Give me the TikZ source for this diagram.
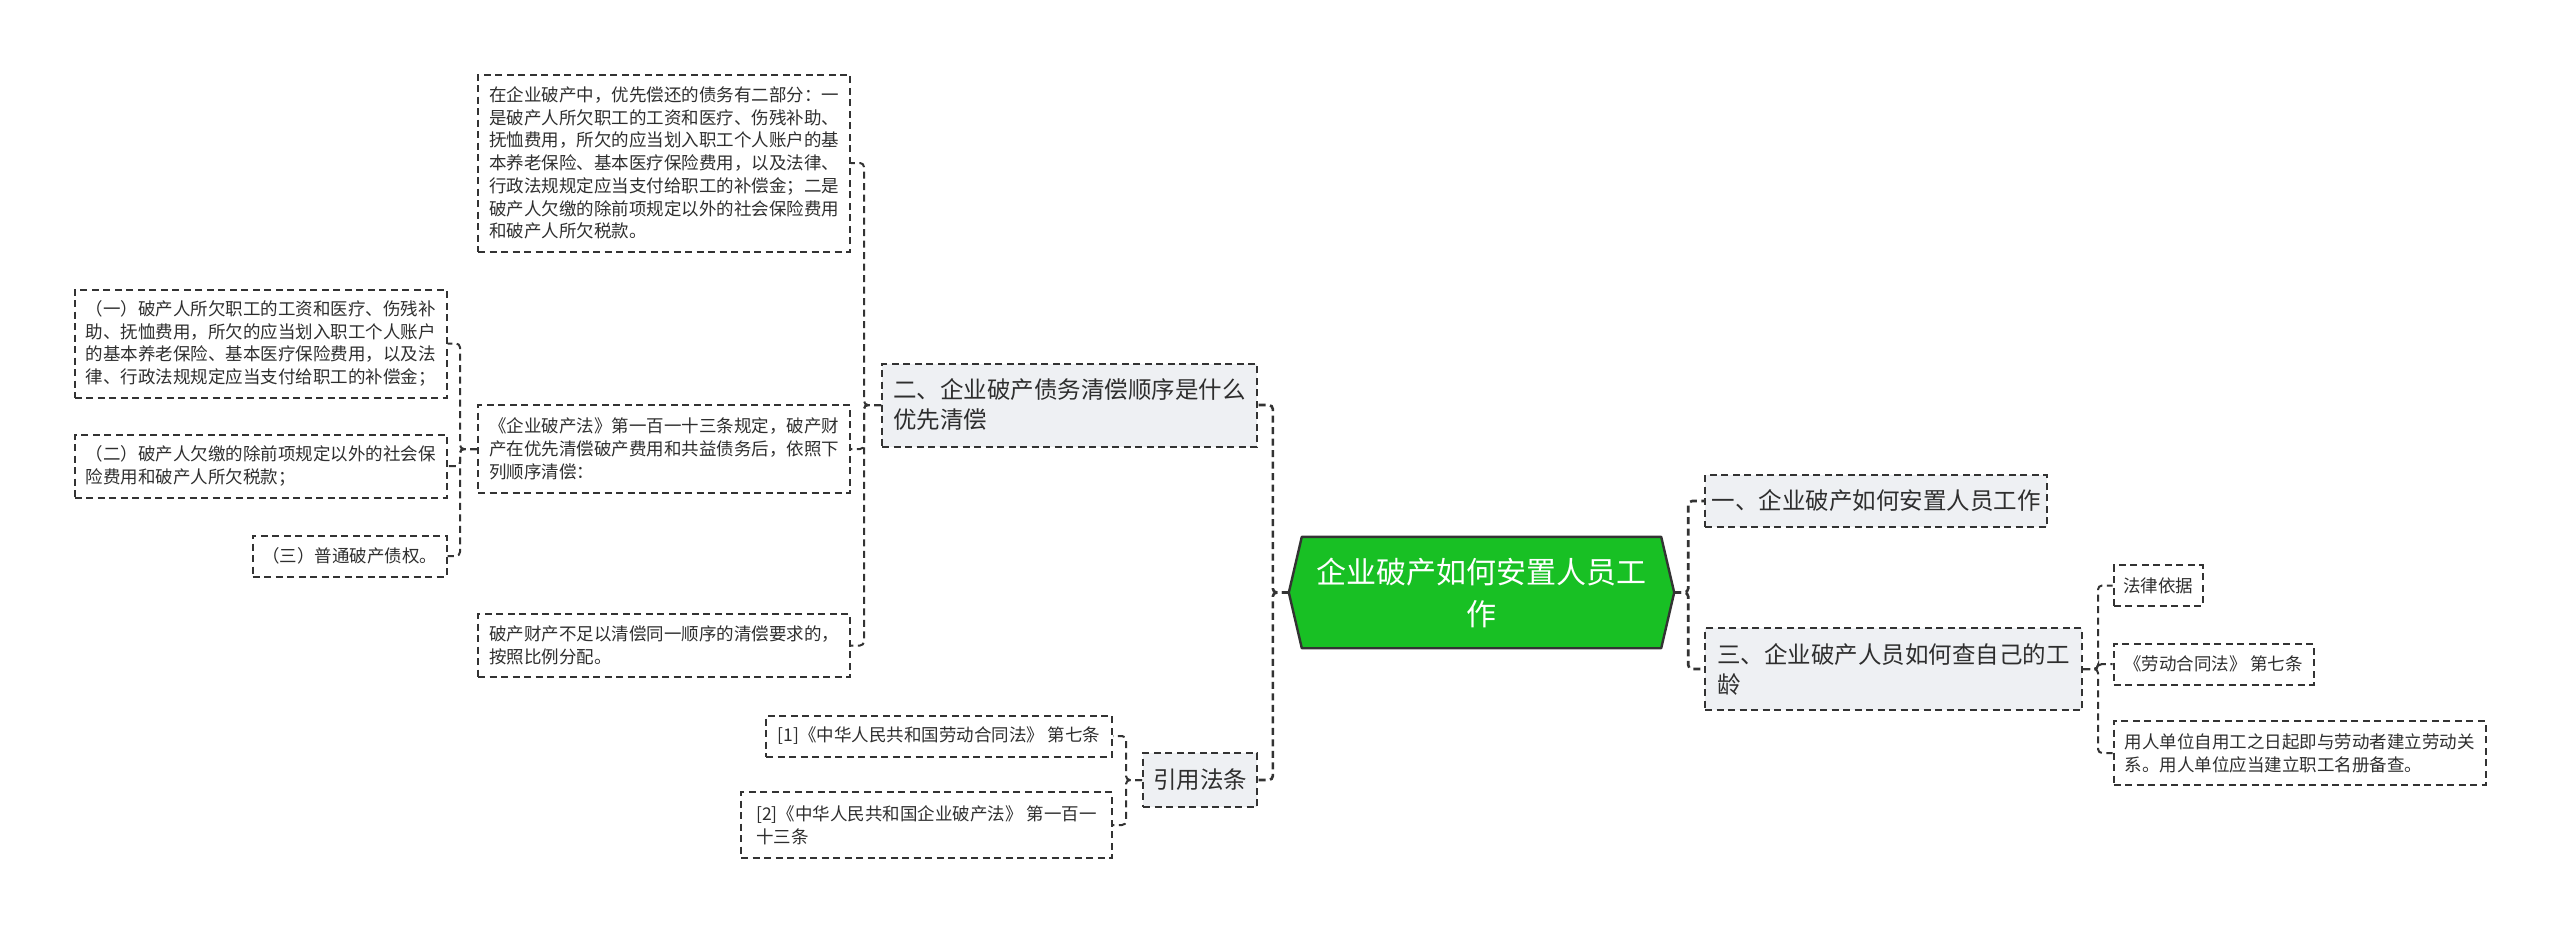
\documentclass[tikz,border=0pt]{standalone}
\usepackage{fontspec}
\setmainfont{Noto Sans CJK SC}
\usetikzlibrary{calc}
\pgfdeclarelayer{background}
\pgfsetlayers{background,main}
\definecolor{txt}{HTML}{2E2E2E}
\definecolor{edge}{HTML}{333333}
\definecolor{lvfill}{HTML}{EEF0F3}
\definecolor{rootgreen}{RGB}{24,192,36}
\tikzset{
  base/.style={inner sep=0pt, align=left, text=txt, draw=edge, line width=2pt, dash pattern=on 7pt off 4.5pt},
  small/.style={base, font=\fontsize{17.5}{22.7}\selectfont},
  mid/.style={base, fill=lvfill, font=\fontsize{23.5}{30}\selectfont},
  rootnode/.style={inner sep=0pt, align=center, text=white, font=\fontsize{30}{42}\selectfont},
  conn/.style={draw=edge, line width=2pt, dash pattern=on 7pt off 4.5pt, rounded corners=4pt},
  mainconn/.style={draw=edge, line width=2.6pt, dash pattern=on 7pt off 4.5pt, rounded corners=4pt},
  box/.style 2 args={minimum width=#1, minimum height=#2}
}
\begin{document}
\begin{tikzpicture}[x=1pt,y=-1pt]
\useasboundingbox (0,0) rectangle (2560,932);
% root
\node[rootnode, box={385}{111}] (root) at (1481.5,592.5) {企业破产如何安置人员工\\作};
\begin{pgfonlayer}{background}
\draw[fill=rootgreen, draw=edge, line width=2.4pt, line join=round]
  (root.west) -- ([xshift=13pt]root.north west) -- ([xshift=-13pt]root.north east)
  -- (root.east) -- ([xshift=-13pt]root.south east) -- ([xshift=13pt]root.south west) -- cycle;
\end{pgfonlayer}
% level 1
\node[mid, box={375}{83}] (n2) at (1069.5,405) {二、企业破产债务清偿顺序是什么\\优先清偿};
\node[mid, box={114}{54}] (ref) at (1200,780) {引用法条};
\node[mid, box={342}{52}] (n1) at (1876,501) {一、企业破产如何安置人员工作};
\node[mid, box={377}{82}] (n3) at (1893.5,669) {三、企业破产人员如何查自己的工\\龄};
% right children
\node[small, box={89}{41}] (n3a) at (2158,585.5) {法律依据};
\node[small, box={200}{41}] (n3b) at (2213.5,664) {《劳动合同法》 第七条};
\node[small, box={372}{64}] (n3c) at (2299.5,753) {用人单位自用工之日起即与劳动者建立劳动关\\系。用人单位应当建立职工名册备查。};
% left children of n2
\node[small, box={372}{177}] (A) at (664,163) {在企业破产中，优先偿还的债务有二部分：一\\是破产人所欠职工的工资和医疗、伤残补助、\\抚恤费用，所欠的应当划入职工个人账户的基\\本养老保险、基本医疗保险费用，以及法律、\\行政法规规定应当支付给职工的补偿金；二是\\破产人欠缴的除前项规定以外的社会保险费用\\和破产人所欠税款。};
\node[small, box={372}{88}] (B) at (664,449) {《企业破产法》第一百一十三条规定，破产财\\产在优先清偿破产费用和共益债务后，依照下\\列顺序清偿：};
\node[small, box={372}{63}] (C) at (664,645.5) {破产财产不足以清偿同一顺序的清偿要求的，\\按照比例分配。};
% children of B
\node[small, box={372}{108}] (B1) at (260.5,343.5) {（一）破产人所欠职工的工资和医疗、伤残补\\助、抚恤费用，所欠的应当划入职工个人账户\\的基本养老保险、基本医疗保险费用，以及法\\律、行政法规规定应当支付给职工的补偿金；};
\node[small, box={372}{63}] (B2) at (260.5,466) {（二）破产人欠缴的除前项规定以外的社会保\\险费用和破产人所欠税款；};
\node[small, box={194}{41}] (B3) at (349.5,556) {（三）普通破产债权。};
% references
\node[small, box={346}{41}] (r1) at (939,736) {[1]《中华人民共和国劳动合同法》 第七条};
\node[small, box={371}{66}] (r2) at (926.5,825) {[2]《中华人民共和国企业破产法》 第一百一\\十三条};
% connectors from root
\draw[mainconn] (root.west) -- ++(-16,0) |- (n2.east);
\draw[mainconn] (root.west) -- ++(-16,0) |- (ref.east);
\draw[mainconn] (root.east) -- ++(14,0) |- (n1.west);
\draw[mainconn] (root.east) -- ++(14,0) |- (n3.west);
% n2 children
\draw[conn] (n2.west) -- ++(-17,0) |- (A.east);
\draw[conn] (n2.west) -- ++(-17,0) |- (B.east);
\draw[conn] (n2.west) -- ++(-17,0) |- (C.east);
% B children
\draw[conn] (B.west) -- ++(-17,0) |- (B1.east);
\draw[conn] (B.west) -- ++(-17,0) |- (B2.east);
\draw[conn] (B.west) -- ++(-17,0) |- (B3.east);
% ref children
\draw[conn] (ref.west) -- ++(-16,0) |- (r1.east);
\draw[conn] (ref.west) -- ++(-16,0) |- (r2.east);
% n3 children
\draw[conn] (n3.east) -- ++(15,0) |- (n3a.west);
\draw[conn] (n3.east) -- ++(15,0) |- (n3b.west);
\draw[conn] (n3.east) -- ++(15,0) |- (n3c.west);
\end{tikzpicture}
\end{document}
